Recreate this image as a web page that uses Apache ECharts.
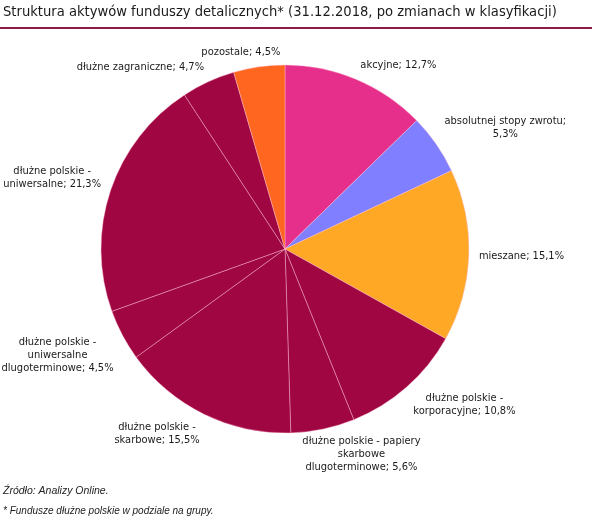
<!DOCTYPE html>
<html><head><meta charset="utf-8">
<script src="https://cdn.jsdelivr.net/npm/echarts@6/dist/echarts.min.js"></script>
<style>html,body{margin:0;padding:0;background:#fff}#c{width:592px;height:522px}</style>
</head><body><div id="c"></div>
<script>
var titleText = 'Struktura aktywów funduszy detalicznych* (31.12.2018, po zmianach w klasyfikacji)';
var categories = [
  'akcyjne',
  'absolutnej stopy zwrotu',
  'mieszane',
  'dłużne polskie -\nkorporacyjne',
  'dłużne polskie - papiery\nskarbowe\ndlugoterminowe',
  'dłużne polskie -\nskarbowe',
  'dłużne polskie -\nuniwersalne\ndlugoterminowe',
  'dłużne polskie -\nuniwersalne',
  'dłużne zagraniczne',
  'pozostale'
];
var values = [12.7, 5.3, 15.1, 10.8, 5.6, 15.5, 4.5, 21.3, 4.7, 4.5];
var colors = ['#E62E8B', '#7F7FFF', '#FFA826', '#A00641', '#A00641', '#A00641', '#A00641', '#A00641', '#A00641', '#FF6720'];
var sourceNote = 'Źródło: Analizy Online.';
var footNote = '* Fundusze dłużne polskie w podziale na grupy.';

var FONT = '"DejaVu Sans Condensed", "Liberation Sans Narrow", sans-serif';
var FS = 11, LH = 13;
var CX = 285, CY = 249, R = 184, GAP = 10;

function labelText(name, value) {
  var v = String(value).replace('.', ',') + '%';
  if (name.indexOf('\n') < 0 && name.length > 20) return name + ';\n' + v;
  return name + '; ' + v;
}
var data = categories.map(function (c, i) {
  return { name: c, value: values[i], itemStyle: { color: colors[i] } };
});

// label placement: the label box hangs off a point just outside the pie on the slice's middle angle
var total = values.reduce(function (a, b) { return a + b; }, 0);
var ctx = document.createElement('canvas').getContext('2d');
ctx.font = FS + 'px ' + FONT;
function clamp(v) { return Math.max(-1, Math.min(1, v)); }
var boxes = [];
(function () {
  var acc = 0, mids = [];
  values.forEach(function (v) { mids.push((acc + v / 2) / total * Math.PI * 2); acc += v; });
  var placed = [];
  function place(a, w, h) {
    var dx = Math.sin(a), dy = -Math.cos(a);
    var px = CX + dx * (R + GAP), py = CY + dy * (R + GAP);
    return { x: px + clamp(3 * dx) * w / 2, y: py + clamp(3 * dy) * 0.8 * h / 2, w: w, h: h };
  }
  function hits(b) {
    return placed.some(function (o) {
      return Math.abs(b.x - o.x) < (b.w + o.w) / 2 + 4 && Math.abs(b.y - o.y) < (b.h + o.h) / 2 + 2;
    });
  }
  for (var i = values.length - 1; i >= 0; i--) {
    var lines = labelText(categories[i], values[i]).split('\n');
    var w = Math.max.apply(null, lines.map(function (l) { return ctx.measureText(l).width; }));
    var h = lines.length * LH;
    var a = mids[i], b = place(a, w, h), n = 0;
    while (hits(b) && n < 200) { a -= Math.PI / 360; b = place(a, w, h); n++; }
    placed.push(b);
    boxes[i] = b;
  }
})();

var chart = echarts.init(document.getElementById('c'));
chart.setOption({
  animation: false,
  title: {
    text: titleText, left: 3, top: 5, padding: 0,
    textStyle: { fontFamily: FONT, fontSize: 14.6, fontWeight: 'normal', color: '#1a1a1a' }
  },
  graphic: [
    { type: 'rect', shape: { x: 0, y: 27, width: 592, height: 2 }, style: { fill: '#8C1B46' } },
    { type: 'text', left: 3, top: 486, style: { text: sourceNote, font: 'italic 10.5px "Liberation Sans", sans-serif', fill: '#222' } },
    { type: 'text', left: 3, top: 506, style: { text: footNote, font: 'italic 10px "Liberation Sans", sans-serif', fill: '#222' } }
  ],
  series: [
    {
      type: 'pie', center: [CX, CY], radius: R, startAngle: 90,
      data: data, silent: true,
      labelLine: { show: false },
      itemStyle: { borderColor: 'rgba(255,190,215,0.7)', borderWidth: 0.6 },
      label: {
        show: true, position: 'outside', overflow: 'none',
        formatter: function (p) { return labelText(p.name, p.value); },
        fontFamily: FONT, fontSize: FS, lineHeight: LH, color: '#1a1a1a'
      },
      labelLayout: function (p) {
        var b = boxes[p.dataIndex];
        return { x: b.x, y: b.y, align: 'center', verticalAlign: 'middle' };
      }
    }
  ]
});
</script></body></html>
